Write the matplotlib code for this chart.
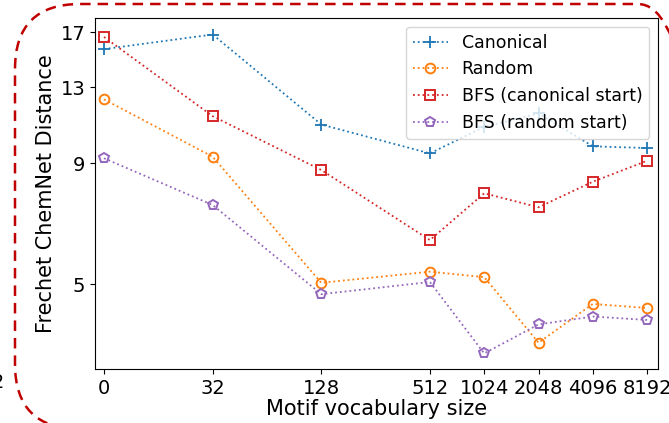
import matplotlib.pyplot as plt
from matplotlib.patches import FancyBboxPatch
from matplotlib.transforms import IdentityTransform
from matplotlib.ticker import NullLocator

# 词表大小（0 放在 log2 位置 3 处）
vocab_labels = ['0', '32', '128', '512', '1024', '2048', '4096', '8192']
vocab_pos = [3, 5, 7, 9, 10, 11, 12, 13]

canonical = [15.65, 16.8, 10.85, 9.43, 10.73, 11.45, 9.76, 9.68]
random_order = [12.26, 9.28, 5.03, 5.31, 5.17, 3.76, 4.54, 4.45]
bfs_canonical = [16.6, 11.3, 8.7, 6.19, 7.77, 7.26, 8.22, 9.1]
bfs_random = [9.21, 7.34, 4.76, 5.05, 3.57, 4.11, 4.27, 4.2]

yticks = [5, 9, 13, 17]

fig = plt.figure(figsize=(6.69, 4.23), dpi=100)
ax = fig.add_axes([0.142, 0.1277, 0.8416, 0.8297])

ax.plot(vocab_pos, canonical, ':', lw=1.3, marker='+', color='tab:blue', markersize=8,
        markeredgewidth=1.3, label='Canonical')
ax.plot(vocab_pos, random_order, ':', lw=1.3, marker='o', color='tab:orange', markersize=7,
        markerfacecolor='none', markeredgewidth=1.4, label='Random')
ax.plot(vocab_pos, bfs_canonical, ':', lw=1.3, marker='s', color='tab:red', markersize=7.5,
        markerfacecolor='none', markeredgewidth=1.4, label='BFS (canonical start)')
ax.plot(vocab_pos, bfs_random, ':', lw=1.3, marker='p', color='tab:purple', markersize=7.5,
        markerfacecolor='none', markeredgewidth=1.4, label='BFS (random start)')

ax.set_yscale('log')
ax.set_ylim(3.31, 18.2)
ax.set_xlim(2.834, 13.2)
ax.set_yticks(yticks)
ax.set_yticklabels([str(t) for t in yticks])
ax.yaxis.set_minor_locator(NullLocator())
ax.set_xticks(vocab_pos)
ax.set_xticklabels(vocab_labels)
ax.tick_params(labelsize=14)

ax.set_xlabel('Motif vocabulary size', fontsize=15, labelpad=1)
ax.set_ylabel('Frechet ChemNet Distance', fontsize=15, labelpad=3)
ax.legend(loc='upper right', fontsize=12.5)

# 外围的红色虚线圆角框（像素坐标）
box = FancyBboxPatch((15, -6), 688, 425,
                     boxstyle='round,pad=0,rounding_size=65',
                     transform=IdentityTransform(), fill=False,
                     edgecolor='#c00000', linewidth=1.8,
                     linestyle=(0, (4.2, 2.8)), clip_on=False)
fig.patches.append(box)
fig.text(-0.013, (423 - 382) / 423, '2', fontsize=14, va='center', ha='left')

fig.savefig('out.png', dpi=100)
